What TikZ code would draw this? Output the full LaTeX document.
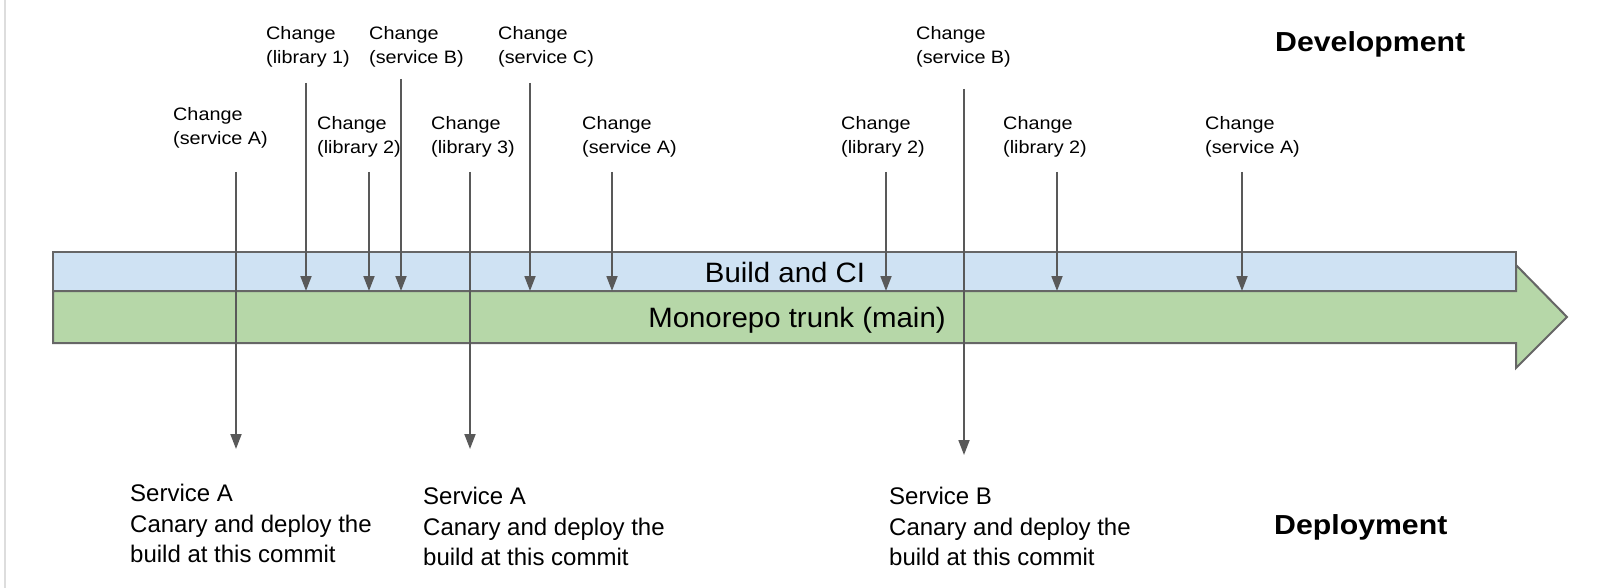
\documentclass[tikz,border=0pt]{standalone}
\usepackage{fontspec}
\setmainfont{Liberation Sans}
\newfontfamily\wide[FakeStretch=1.1]{Liberation Sans}
\newfontfamily\bandfont[FakeStretch=1.05]{Liberation Sans}
\usetikzlibrary{arrows.meta}
\definecolor{cifill}{HTML}{CFE2F3}
\definecolor{trunkfill}{HTML}{B6D7A8}
\definecolor{edgegray}{HTML}{666666}
\definecolor{arrgray}{HTML}{595959}
\definecolor{framegray}{HTML}{DDDDDD}
\begin{document}
\begin{tikzpicture}[x=1pt,y=-1pt,
  chg/.style={anchor=north west, inner sep=0pt, align=left, font=\wide\fontsize{18}{24}\selectfont},
  dep/.style={anchor=north west, inner sep=0pt, align=left, font=\fontsize{24}{30.5}\selectfont},
  head/.style={anchor=base west, inner sep=0pt, font=\wide\bfseries\fontsize{27.5}{33}\selectfont},
  bandtxt/.style={anchor=base, inner sep=0pt, font=\bandfont\fontsize{28}{34}\selectfont},
  commit/.style={draw=arrgray, line width=1.8pt, -{Triangle[length=15pt,width=11pt]}},
  band/.style={draw=edgegray, line width=2pt, line join=miter},
]
\useasboundingbox (0,0) rectangle (1600,588);
\fill[white] (0,0) rectangle (1600,588);
\draw[framegray, line width=1.5pt] (5,0) -- (5,588);

% bands
\path[band, fill=trunkfill] (53,291) -- (1516,291) -- (1516,265) -- (1567,317) -- (1516,368) -- (1516,343) -- (53,343) -- cycle;
\path[band, fill=cifill] (53,252) rectangle (1516,291);
\node[bandtxt] (ci) at (785,282) {Build and CI};
\node[bandtxt] (trunk) at (797,327) {Monorepo trunk (main)};

% headings
\node[head] (dev) at (1275,52) {Development};
\node[head] (depl) at (1274,534) {Deployment};

% change labels
\node[chg] (cA1) at (173,107) {Change\\(service A)};
\node[chg] (cL1) at (266,26) {Change\\(library 1)};
\node[chg] (cB1) at (369,26) {Change\\(service B)};
\node[chg] (cC1) at (498,26) {Change\\(service C)};
\node[chg] (cL2) at (317,116) {Change\\(library 2)};
\node[chg] (cL3) at (431,116) {Change\\(library 3)};
\node[chg] (cA2) at (582,116) {Change\\(service A)};
\node[chg] (cL2b) at (841,116) {Change\\(library 2)};
\node[chg] (cB2) at (916,26) {Change\\(service B)};
\node[chg] (cL2c) at (1003,116) {Change\\(library 2)};
\node[chg] (cA3) at (1205,116) {Change\\(service A)};

% deployment texts
\node[dep] (dA1) at (130,484) {Service A\\Canary and deploy the\\build at this commit};
\node[dep] (dA2) at (423,487) {Service A\\Canary and deploy the\\build at this commit};
\node[dep] (dB) at (889,487) {Service B\\Canary and deploy the\\build at this commit};

% arrow coordinates
\coordinate (sA1) at (236,172);  \coordinate (eA1) at (236,449);
\coordinate (sL1) at (306,83);   \coordinate (eL1) at (306,291);
\coordinate (sL2) at (369,172);  \coordinate (eL2) at (369,291);
\coordinate (sB1) at (401,79);   \coordinate (eB1) at (401,291);
\coordinate (sL3) at (470,172);  \coordinate (eL3) at (470,449);
\coordinate (sC1) at (530,83);   \coordinate (eC1) at (530,291);
\coordinate (sA2) at (612,172);  \coordinate (eA2) at (612,291);
\coordinate (sL2b) at (886,172); \coordinate (eL2b) at (886,291);
\coordinate (sB2) at (964,89);   \coordinate (eB2) at (964,455);
\coordinate (sL2c) at (1057,172);\coordinate (eL2c) at (1057,291);
\coordinate (sA3) at (1242,172); \coordinate (eA3) at (1242,291);

\foreach \n in {A1,L1,L2,B1,L3,C1,A2,L2b,B2,L2c,A3}
  \draw[commit] (s\n) -- (e\n);
\end{tikzpicture}
\end{document}
